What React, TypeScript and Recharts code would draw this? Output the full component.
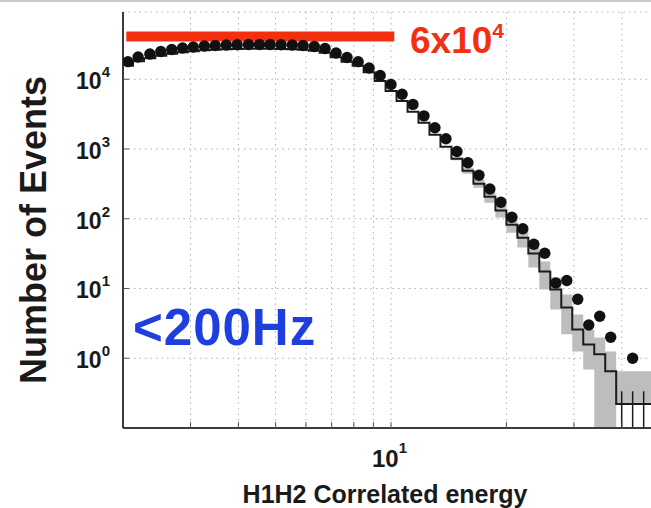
import React from 'react';
import { ComposedChart, XAxis, YAxis, CartesianGrid, Line, Area, ErrorBar, ReferenceLine } from 'recharts';

// bin centres (H1H2 correlated energy)
const energy = [2.06, 2.19, 2.35, 2.51, 2.68, 2.86, 3.05, 3.26, 3.48, 3.72, 3.97, 4.25, 4.54, 4.84, 5.17, 5.53, 5.9, 6.31, 6.73, 7.19, 7.68, 8.21, 8.77, 9.37, 10.0, 10.69, 11.41, 12.19, 13.02, 13.91, 14.86, 15.87, 16.96, 18.11, 19.35, 20.67, 22.07, 23.58, 25.18, 26.9, 28.74, 30.69, 32.79, 35.03, 37.41, 39.96, 42.68, 45.6, 48.7];

// foreground events (black dots)
const events: (number | null)[] = [17860, 20840, 23010, 24980, 26690, 28040, 28980, 29950, 30450, 30950, 31260, 31470, 31470, 31470, 31260, 30950, 30450, 29460, 27590, 23780, 20500, 17860, 14510, 11340, 8425, 6100, 4360, 2985, 2011, 1399, 921, 635, 420, 267, 172, 105, 72, 43, 32, 12, 13, 7, 3, 4, 2, null, 1, null, null];

// background estimate (black stair line)
const background = [15540, 18130, 20020, 21730, 23220, 24390, 25210, 26060, 26490, 26930, 27200, 27380, 27380, 27380, 27200, 26930, 26490, 25630, 24000, 20690, 17840, 15540, 12620, 9400, 6800, 4894, 3406, 2370, 1597, 1075, 724, 488, 318, 207, 131, 82.3, 53.6, 31.7, 17.5, 9.67, 5.35, 2.59, 1.58, 1.14, 0.65, 0.22, 0.22, 0.22, 0.22];

// background uncertainty band (grey)
const bandLow = [15540, 18130, 20020, 21730, 23220, 24390, 25210, 26060, 26490, 26930, 27200, 27380, 27380, 27380, 27200, 26930, 26490, 25630, 24000, 20690, 17840, 15540, 12620, 9400, 6800, 4894, 3406, 2370, 1597, 1075, 690, 440, 279, 170, 104, 63, 38.6, 20, 9.7, 5.0, 2.2, 1.25, 0.69, 0.1, 0.1, 0.22, 0.22, 0.22, 0.22];
const bandHigh = [15540, 18130, 20020, 21730, 23220, 24390, 25210, 26060, 26490, 26930, 27200, 27380, 27380, 27380, 27200, 26930, 26490, 25630, 24000, 20690, 17840, 15540, 12620, 9400, 6800, 4894, 3406, 2370, 1597, 1075, 760, 540, 362, 244, 159, 104, 70, 42.6, 24.3, 14.4, 8.2, 4.25, 2.59, 1.99, 1.25, 0.65, 0.65, 0.65, 0.65];

// error bars on the lowest background bins (deltas below / above)
const errBelow: (number | null)[] = [null, null, null, null, null, null, null, null, null, null, null, null, null, null, null, null, null, null, null, null, null, null, null, null, null, null, null, null, null, null, null, null, null, null, null, null, null, null, null, null, null, null, null, null, null, 0.12, 0.12, 0.12, 0.12];
const errAbove: (number | null)[] = [null, null, null, null, null, null, null, null, null, null, null, null, null, null, null, null, null, null, null, null, null, null, null, null, null, null, null, null, null, null, null, null, null, null, null, null, null, null, null, null, null, null, null, null, null, 0.116, 0.116, 0.116, 0.116];

const xTicks = [3, 4, 5, 6, 7, 8, 9, 10, 20, 30, 40];
const yTicks = [1, 10, 100, 1000, 10000];
const yExponents: Record<number, string> = { 1: '0', 10: '1', 100: '2', 1000: '3', 10000: '4' };

const thresholdFrom = 2.04;
const thresholdTo = 10.2;
const thresholdLevel = 41100;

const data = energy.map((e, i) => ({
  e,
  ev: events[i],
  bg: background[i],
  band: [bandLow[i], bandHigh[i]],
  err: errBelow[i] == null ? undefined : [errBelow[i], errAbove[i]],
}));

const FONT = '"Liberation Sans", Arial, Helvetica, sans-serif';

const YTick = (props: any) => {
  const { x, y, payload } = props;
  return (
    <text x={x} y={y + 10} textAnchor="end" fontFamily={FONT} fontWeight="bold" fontSize={23} fill="#1a1a1a">
      <tspan>10</tspan>
      <tspan dy={-12} fontSize={15}>{yExponents[payload.value]}</tspan>
    </text>
  );
};

const XTick = (props: any) => {
  const { x, y, payload } = props;
  if (payload.value !== 10) return <g />;
  return (
    <text x={x - 1.5} y={y + 39} textAnchor="middle" fontFamily={FONT} fontWeight="bold" fontSize={24} fill="#1a1a1a">
      <tspan>10</tspan>
      <tspan dy={-14} fontSize={15}>1</tspan>
    </text>
  );
};

export default function App() {
  return (
    <div style={{ position: 'relative', width: 651, height: 508, overflow: 'hidden', background: '#fff' }}>
      <style>{`body{margin:0;}`}</style>
      <ComposedChart width={659} height={508} data={data} margin={{ top: 12, right: 0, bottom: 0, left: 0 }}>
        <CartesianGrid stroke="#b0b0b0" strokeDasharray="1.5 4" strokeWidth={1} />
        <XAxis
          dataKey="e"
          type="number"
          scale="log"
          domain={[2, 50]}
          allowDataOverflow
          ticks={xTicks}
          interval={0}
          height={80}
          tickSize={-6}
          tickMargin={6}
          tick={<XTick />}
          axisLine={{ stroke: '#3a3a3a', strokeWidth: 2 }}
          tickLine={{ stroke: '#555' }}
        />
        <XAxis
          xAxisId="top"
          orientation="top"
          dataKey="e"
          type="number"
          scale="log"
          domain={[2, 50]}
          allowDataOverflow
          ticks={xTicks}
          interval={0}
          height={0}
          tickSize={-6}
          tick={false}
          axisLine={{ stroke: '#555', strokeWidth: 2 }}
          tickLine={{ stroke: '#555' }}
        />
        <YAxis
          type="number"
          scale="log"
          domain={[0.1, 92000]}
          allowDataOverflow
          ticks={yTicks}
          interval={0}
          width={123}
          tickSize={-6}
          tickMargin={19}
          tick={<YTick />}
          axisLine={{ stroke: '#3a3a3a', strokeWidth: 2 }}
          tickLine={{ stroke: '#555' }}
        />
        <Area dataKey="band" type="step" fill="#bdbdbd" fillOpacity={1} stroke="none" isAnimationActive={false} />
        <Line dataKey="bg" type="step" stroke="#1c1c1c" strokeWidth={2} dot={false} isAnimationActive={false}>
          <ErrorBar dataKey="err" width={0} stroke="#1c1c1c" strokeWidth={1.5} direction="y" />
        </Line>
        <Line dataKey="ev" stroke="none" dot={{ r: 5.7, fill: '#111', stroke: 'none' }} isAnimationActive={false} />
        <ReferenceLine
          segment={[{ x: thresholdFrom, y: thresholdLevel }, { x: thresholdTo, y: thresholdLevel }]}
          stroke="#f2300f"
          strokeWidth={10}
        />
      </ComposedChart>
      <svg width={651} height={508} style={{ position: 'absolute', left: 0, top: 0, pointerEvents: 'none' }}>
        <rect x={0} y={0} width={651} height={2} fill="#c9c9c9" />
        <text transform="translate(46, 230) rotate(-90)" textAnchor="middle" fontFamily={FONT} fontWeight="bold" fontSize={36} fill="#1a1a1a">
          Number of Events
        </text>
        <text x={385} y={503} textAnchor="middle" fontFamily={FONT} fontWeight="bold" fontSize={25} fill="#1a1a1a">
          H1H2 Correlated energy
        </text>
        <text x={410} y={53} fontFamily={FONT} fontWeight="bold" fontSize={37} fill="#f2300f">
          6x10<tspan dy={-15} fontSize={21}>4</tspan>
        </text>
        <text x={133} y={345} fontFamily={FONT} fontWeight="bold" fontSize={51} letterSpacing={1} fill="#1d3fe0">
          &lt;200Hz
        </text>
      </svg>
    </div>
  );
}
